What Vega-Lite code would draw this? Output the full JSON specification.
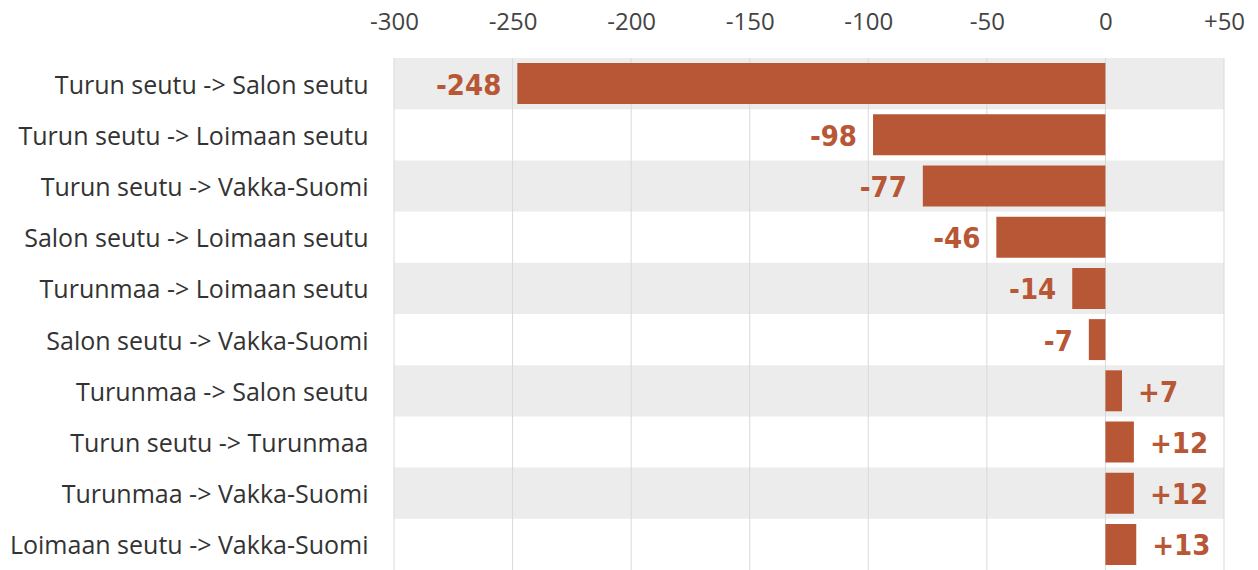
{
  "$schema": "https://vega.github.io/schema/vega-lite/v6.json",
  "width": 830,
  "height": 512,
  "autosize": {"type": "none"},
  "padding": {"left": 394, "top": 58, "right": 34, "bottom": 0},
  "background": "white",
  "config": {
    "view": {"stroke": null}
  },
  "datasets": {
    "flows": [
      {"route": "Turun seutu -> Salon seutu", "value": -248},
      {"route": "Turun seutu -> Loimaan seutu", "value": -98},
      {"route": "Turun seutu -> Vakka-Suomi", "value": -77},
      {"route": "Salon seutu -> Loimaan seutu", "value": -46},
      {"route": "Turunmaa -> Loimaan seutu", "value": -14},
      {"route": "Salon seutu -> Vakka-Suomi", "value": -7},
      {"route": "Turunmaa -> Salon seutu", "value": 7},
      {"route": "Turun seutu -> Turunmaa", "value": 12},
      {"route": "Turunmaa -> Vakka-Suomi", "value": 12},
      {"route": "Loimaan seutu -> Vakka-Suomi", "value": 13}
    ],
    "ticks": [{"t": -300}, {"t": -250}, {"t": -200}, {"t": -150}, {"t": -100}, {"t": -50}, {"t": 0}, {"t": 50}]
  },
  "layer": [
    {
      "data": {"name": "flows"},
      "transform": [
        {"window": [{"op": "row_number", "as": "rn"}]},
        {"filter": "datum.rn % 2 == 1"}
      ],
      "mark": {"type": "rect", "color": "#ececec"},
      "encoding": {
        "y": {
          "field": "route", "type": "nominal", "sort": null,
          "scale": {"paddingInner": 0, "paddingOuter": 0, "domain": ["Turun seutu -> Salon seutu", "Turun seutu -> Loimaan seutu", "Turun seutu -> Vakka-Suomi", "Salon seutu -> Loimaan seutu", "Turunmaa -> Loimaan seutu", "Salon seutu -> Vakka-Suomi", "Turunmaa -> Salon seutu", "Turun seutu -> Turunmaa", "Turunmaa -> Vakka-Suomi", "Loimaan seutu -> Vakka-Suomi"]},
          "axis": {"title": null, "domain": false, "ticks": false, "grid": false, "labelFontSize": 25, "labelFont": "Open Sans", "labelColor": "#333333", "labelPadding": 26, "labelLimit": 500, "labelOffset": 2}
        },
        "x": {
          "datum": -300, "type": "quantitative",
          "scale": {"domain": [-300, 50], "nice": false, "zero": false},
          "axis": {"orient": "top", "title": null, "grid": false, "domain": false, "ticks": false, "labelFontSize": 24, "labelFont": "Open Sans", "labelColor": "#444444", "labelPadding": 24, "labelFlush": false, "labelOverlap": false, "values": [-300, -250, -200, -150, -100, -50, 0, 50], "labelExpr": "(datum.value > 0 ? '+' : '') + datum.value"}
        },
        "x2": {"datum": 50}
      }
    },
    {
      "data": {"name": "ticks"},
      "mark": {"type": "rule", "color": "#d9d9d9", "strokeWidth": 1},
      "encoding": {
        "x": {"field": "t", "type": "quantitative", "title": null}
      }
    },
    {
      "data": {"name": "flows"},
      "mark": {"type": "bar", "color": "#b85735", "height": {"band": 0.8}},
      "encoding": {
        "y": {"field": "route", "type": "nominal", "sort": null, "title": null},
        "x": {"field": "value", "type": "quantitative", "title": null},
        "x2": {"datum": 0}
      }
    },
    {
      "data": {"name": "flows"},
      "transform": [
        {"filter": "datum.value < 0"},
        {"calculate": "'' + datum.value", "as": "lbl"}
      ],
      "mark": {"type": "text", "align": "right", "baseline": "middle", "dx": -16, "dy": 2, "font": "DejaVu Sans Condensed, Liberation Sans", "fontWeight": "bold", "fontSize": 29, "color": "#b85735"},
      "encoding": {
        "y": {"field": "route", "type": "nominal", "sort": null, "title": null},
        "x": {"field": "value", "type": "quantitative", "title": null},
        "text": {"field": "lbl"}
      }
    },
    {
      "data": {"name": "flows"},
      "transform": [
        {"filter": "datum.value > 0"},
        {"calculate": "'+' + datum.value", "as": "lbl"}
      ],
      "mark": {"type": "text", "align": "left", "baseline": "middle", "dx": 16, "dy": 2, "font": "DejaVu Sans Condensed, Liberation Sans", "fontWeight": "bold", "fontSize": 29, "color": "#b85735"},
      "encoding": {
        "y": {"field": "route", "type": "nominal", "sort": null, "title": null},
        "x": {"field": "value", "type": "quantitative", "title": null},
        "text": {"field": "lbl"}
      }
    }
  ]
}
